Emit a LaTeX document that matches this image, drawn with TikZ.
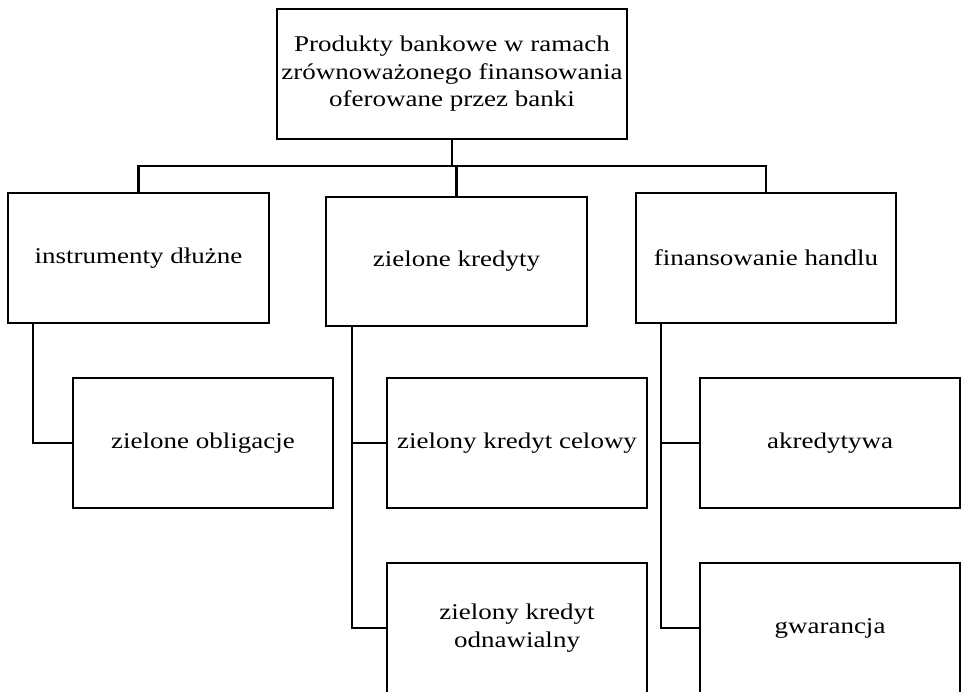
\documentclass[tikz,border=0pt]{standalone}
\usepackage{fontspec}
\setmainfont{Liberation Serif}[FakeStretch=1.2]
\begin{document}
\begin{tikzpicture}[x=1pt,y=-1pt,
  box/.style={draw=black, line width=2.4pt, rectangle, align=center, inner sep=0pt,
    font=\fontsize{22.5}{27.5}\selectfont, text=black},
  conn/.style={draw=black, line width=2.2pt}]
\useasboundingbox (0,0) rectangle (961,691);
\node[box, minimum width=350, minimum height=130] (top) at (452,74) {Produkty bankowe w ramach\\zrównoważonego finansowania\\oferowane przez banki};
\node[box, minimum width=261, minimum height=130] (l1) at (138.5,258) {instrumenty dłużne};
\node[box, minimum width=261, minimum height=129] (m1) at (456.5,261.5) {zielone kredyty};
\node[box, minimum width=260, minimum height=130] (r1) at (766,258) {finansowanie handlu};
\node[box, minimum width=260, minimum height=130] (l2) at (203,443) {zielone obligacje};
\node[box, minimum width=260, minimum height=130] (m2) at (517,443) {zielony kredyt celowy};
\node[box, minimum width=260, minimum height=130] (m3) at (517,628) {zielony kredyt\\odnawialny};
\node[box, minimum width=260, minimum height=130] (r2) at (830,443) {akredytywa};
\node[box, minimum width=260, minimum height=130] (r3) at (830,628) {gwarancja};
\coordinate (bus) at (0,166);
\draw[conn] (top.south) -- (top.south |- bus);
\draw[conn] (l1.north) |- (bus -| r1.north) -- (r1.north);
\draw[conn] (m1.north) -- (m1.north |- bus);
\draw[conn] ([xshift=26pt]l1.south west) |- (l2.west);
\draw[conn] ([xshift=27pt]m1.south west) |- (m2.west);
\draw[conn] ([xshift=27pt]m1.south west) |- (m3.west);
\draw[conn] ([xshift=26pt]r1.south west) |- (r2.west);
\draw[conn] ([xshift=26pt]r1.south west) |- (r3.west);
\end{tikzpicture}
\end{document}
